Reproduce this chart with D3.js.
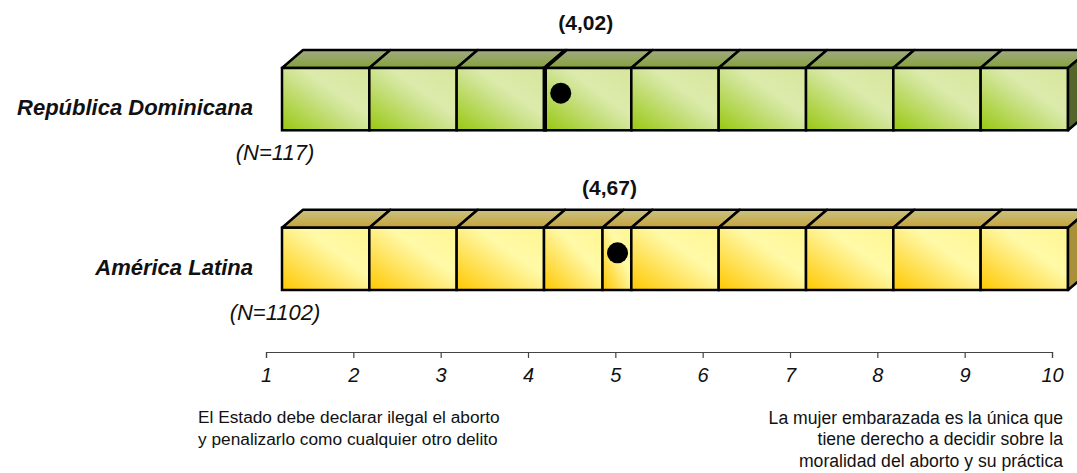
<!DOCTYPE html>
<html>
<head>
<meta charset="utf-8">
<script src="https://cdn.jsdelivr.net/npm/d3@7"></script>
<style>
  body { margin: 0; background: #fff; }
  svg text { font-family: "Liberation Sans", Arial, sans-serif; fill: #111; }
</style>
</head>
<body>
<div id="chart"></div>
<script>
// values
const categories = ["República Dominicana", "América Latina"];
const sampleSizes = ["(N=117)", "(N=1102)"];
const means = [4.02, 4.67];
const meanLabels = ["(4,02)", "(4,67)"];
const tickValues = [1, 2, 3, 4, 5, 6, 7, 8, 9, 10];
const leftNote = ["El Estado debe declarar ilegal el aborto", "y penalizarlo como cualquier otro delito"];
const rightNote = ["La mujer embarazada es la única que", "tiene derecho a decidir sobre la", "moralidad del aborto y su práctica"];

const W = 1077, H = 473;
const depthX = 21, depthY = 18;   // 3d offset of the boxes
const boxShift = 16;              // boxes sit a bit right of the axis ticks

const palettes = [
    { front: ["#98c810", "#cfe494", "#dcebab", "#d6e69c"], top: ["#a2aa86", "#84a236"], side: "#56652c" },
    { front: ["#ffc800", "#fff08a", "#fffaa8", "#fff590"], top: ["#c9c284", "#c6a23a"], side: "#a89038" }
];

const svg = d3.select("#chart").append("svg")
    .attr("width", W)
    .attr("height", H);

const x = d3.scaleLinear().domain([1, 10]).range([266, 1052]);
const xb = v => x(v) + boxShift;

const y = d3.scaleBand()
    .domain(categories)
    .range([68, 290])
    .paddingInner(0.61);

// gradients, one set per row
const defs = svg.append("defs");
palettes.forEach((p, i) => {
    const gf = defs.append("linearGradient")
        .attr("id", "front" + i)
        .attr("x1", 0).attr("y1", 1).attr("x2", 1).attr("y2", 0);
    [0, 0.5, 0.62, 1].forEach((o, k) => gf.append("stop").attr("offset", o).attr("stop-color", p.front[k]));

    const gt = defs.append("linearGradient")
        .attr("id", "top" + i)
        .attr("x1", 0).attr("y1", 0).attr("x2", 0).attr("y2", 1);
    gt.append("stop").attr("offset", 0).attr("stop-color", p.top[0]);
    gt.append("stop").attr("offset", 1).attr("stop-color", p.top[1]);
});

// small per-row nudges for the mean labels
const labelNudgeX = [25, -8];
const labelNudgeY = [0, 5];

categories.forEach((cat, i) => {
    const yt = y(cat);
    const yb = yt + y.bandwidth();
    const g = svg.append("g").attr("class", "row");

    // box edges at every unit plus the mean itself
    const edges = Array.from(new Set(tickValues.concat([means[i]]))).sort((a, b) => a - b);
    const segs = d3.pairs(edges);

    g.selectAll(".top")
        .data(segs)
        .join("path")
        .attr("class", "top")
        .attr("d", ([a, b]) => `M${xb(a)},${yt}L${xb(a) + depthX},${yt - depthY}L${xb(b) + depthX},${yt - depthY}L${xb(b)},${yt}Z`)
        .attr("fill", `url(#top${i})`)
        .attr("stroke", "#000")
        .attr("stroke-width", 2.5)
        .attr("stroke-linejoin", "round");

    g.selectAll(".front")
        .data(segs)
        .join("rect")
        .attr("class", "front")
        .attr("x", ([a]) => xb(a))
        .attr("y", yt)
        .attr("width", ([a, b]) => xb(b) - xb(a))
        .attr("height", yb - yt)
        .attr("fill", `url(#front${i})`)
        .attr("stroke", "#000")
        .attr("stroke-width", 2.5);

    const xe = xb(edges[edges.length - 1]);
    g.append("path")
        .attr("d", `M${xe},${yt}L${xe + depthX},${yt - depthY}L${xe + depthX},${yb - depthY}L${xe},${yb}Z`)
        .attr("fill", palettes[i].side)
        .attr("stroke", "#000")
        .attr("stroke-width", 2.5)
        .attr("stroke-linejoin", "round");

    // mean marker
    const dotX = xb(means[i]) + 15;
    g.append("circle")
        .attr("cx", dotX)
        .attr("cy", (yt + yb) / 2 - 6)
        .attr("r", 10.5)
        .attr("fill", "#000");

    g.append("text")
        .attr("x", dotX + labelNudgeX[i])
        .attr("y", yt - depthY - 20 + labelNudgeY[i])
        .attr("text-anchor", "middle")
        .style("font-size", "21px")
        .style("font-weight", "bold")
        .text(meanLabels[i]);

    g.append("text")
        .attr("x", 253)
        .attr("y", (yt + yb) / 2 + 16)
        .attr("text-anchor", "end")
        .style("font-size", "22px")
        .style("font-weight", "bold")
        .style("font-style", "italic")
        .text(cat);

    g.append("text")
        .attr("x", 275)
        .attr("y", yb + 30)
        .attr("text-anchor", "middle")
        .style("font-size", "22px")
        .style("font-style", "italic")
        .text(sampleSizes[i]);
});

// axis
const axis = svg.append("g")
    .attr("transform", "translate(0,352)")
    .call(d3.axisBottom(x).tickValues(tickValues).tickSize(6).tickSizeOuter(6).tickFormat(d3.format("d")));
axis.select(".domain").attr("stroke", "#444").attr("stroke-width", 1.2);
axis.selectAll(".tick line").attr("stroke", "#444").attr("stroke-width", 1.2);
axis.selectAll(".tick text")
    .attr("y", 30)
    .attr("dy", 0)
    .style("font-size", "20px")
    .style("font-style", "italic")
    .style("fill", "#111");

// end notes
svg.append("text")
    .attr("x", 198)
    .attr("y", 423)
    .style("font-size", "17.3px")
    .selectAll("tspan")
    .data(leftNote)
    .join("tspan")
    .attr("x", 198)
    .attr("dy", (d, k) => k ? 21.7 : 0)
    .text(d => d);

svg.append("text")
    .attr("x", 1063)
    .attr("y", 423.5)
    .attr("text-anchor", "end")
    .style("font-size", "17.6px")
    .selectAll("tspan")
    .data(rightNote)
    .join("tspan")
    .attr("x", 1063)
    .attr("dy", (d, k) => k ? 21.7 : 0)
    .text(d => d);
</script>
</body>
</html>
